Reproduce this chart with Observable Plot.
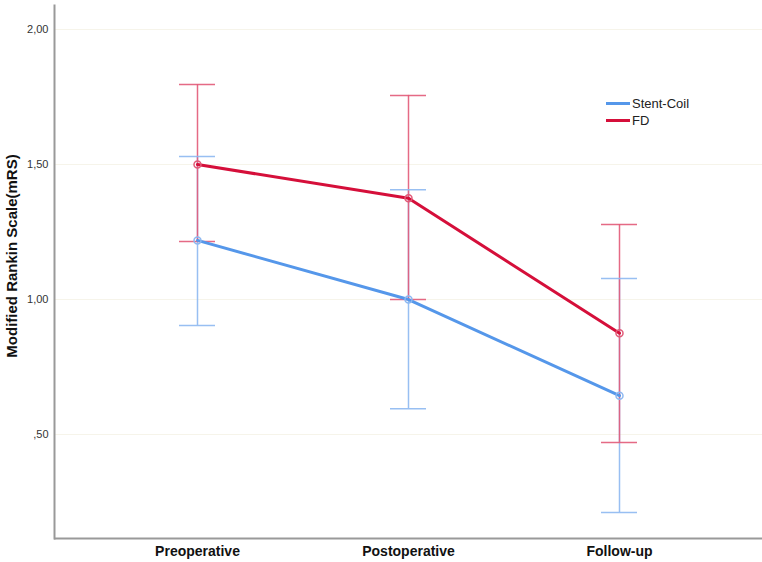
<!DOCTYPE html>
<html><head><meta charset="utf-8">
<script src="https://cdn.jsdelivr.net/npm/d3@7"></script>
<script src="https://cdn.jsdelivr.net/npm/@observablehq/plot@0.6"></script>
<style>
body{margin:0;background:#fff;font-family:"Liberation Sans",Arial,sans-serif;}
#wrap{position:relative;width:762px;height:562px;}
#legend{position:absolute;left:606px;top:95px;font-size:13px;color:#222;line-height:17px;}
#legend div{display:flex;align-items:center;}
#legend span.sw{display:inline-block;width:24px;height:3px;margin-right:2px;}
</style></head><body>
<div id="wrap"><div id="legend"></div></div>
<script>
const phases = ["Preoperative", "Postoperative", "Follow-up"];
const groups = ["Stent-Coil", "FD"];
const colors = ["#5597ea", "#d50f3a"];
const errColors = ["#8db8f1", "#e25a78"];
const stentMean = [1.219, 1.00, 0.644];
const stentLow = [0.904, 0.596, 0.211];
const stentHigh = [1.530, 1.407, 1.078];
const fdMean = [1.500, 1.375, 0.875];
const fdLow = [1.215, 1.000, 0.471];
const fdHigh = [1.796, 1.756, 1.278];
const yTicks = [0.5, 1.0, 1.5, 2.0];
const yDomain = [0.115, 2.089];

const rows = [];
phases.forEach((p, i) => {
  rows.push({phase: p, group: groups[0], mean: stentMean[i], lo: stentLow[i], hi: stentHigh[i]});
  rows.push({phase: p, group: groups[1], mean: fdMean[i], lo: fdLow[i], hi: fdHigh[i]});
});
const fmt = d => d3.format(".2f")(d).replace(".", ",").replace(/^0/, "");

const chart = Plot.plot({
  width: 762, height: 562,
  marginLeft: 54, marginRight: 0, marginTop: 5, marginBottom: 24,
  style: {fontFamily: "Liberation Sans, Arial, sans-serif", background: "transparent"},
  x: {type: "band", domain: phases, paddingInner: 0.83, paddingOuter: 0.589, label: null},
  y: {domain: yDomain, label: null},
  color: {domain: groups, range: colors},
  marks: [
    Plot.ruleY(yTicks, {stroke: "#f6f4ea", strokeWidth: 1}),
    Plot.axisY({ticks: yTicks, tickSize: 0, tickPadding: 6, tickFormat: fmt, fontSize: 11, fill: "#333", label: null}),
    Plot.axisX({tickSize: 0, tickPadding: 8, fontSize: 14, fontWeight: "bold", fill: "#111", label: null}),
    Plot.ruleX(rows, {x: "phase", y1: "lo", y2: "hi", stroke: d => errColors[groups.indexOf(d.group)], strokeWidth: 1.5, strokeOpacity: 0.9}),
    Plot.tickY(rows, {x: "phase", y: "lo", stroke: d => errColors[groups.indexOf(d.group)], strokeWidth: 1.5, strokeOpacity: 0.9}),
    Plot.tickY(rows, {x: "phase", y: "hi", stroke: d => errColors[groups.indexOf(d.group)], strokeWidth: 1.5, strokeOpacity: 0.9}),
    Plot.line(rows, {x: "phase", y: "mean", z: "group", stroke: "group", strokeWidth: 3}),
    Plot.dot(rows, {x: "phase", y: "mean", stroke: d => errColors[groups.indexOf(d.group)], r: 3.5, strokeWidth: 1.5, fill: "none"}),
    Plot.ruleY([yDomain[0]], {stroke: "#999", strokeWidth: 2}),
    Plot.frame({anchor: "left", stroke: "#999", strokeWidth: 2})
  ]
});
const wrap = document.getElementById("wrap");
wrap.insertBefore(chart, wrap.firstChild);

// y-axis label
const svg = d3.select(chart);
svg.append("text")
  .attr("transform", "translate(13,256) rotate(-90)")
  .attr("text-anchor", "middle")
  .attr("dominant-baseline", "middle")
  .attr("font-size", 15).attr("font-weight", "bold").attr("fill", "#111")
  .text("Modified Rankin Scale(mRS)");

const legend = document.getElementById("legend");
groups.forEach((g, i) => {
  const row = document.createElement("div");
  row.innerHTML = `<span class="sw" style="background:${colors[i]}"></span>${g}`;
  legend.appendChild(row);
});
</script>
</body></html>
